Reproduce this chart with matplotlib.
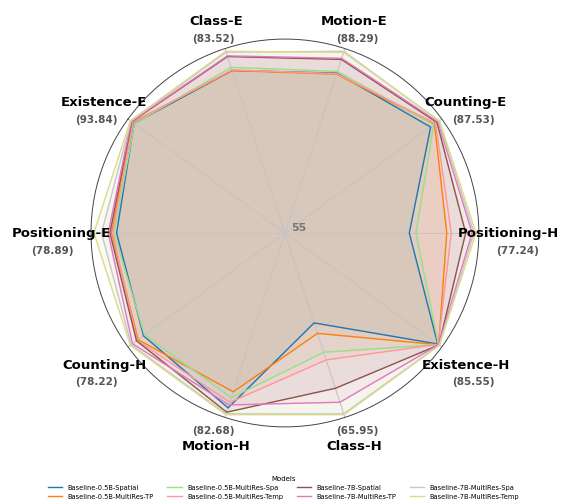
import numpy as np
import matplotlib
matplotlib.use("Agg")
import matplotlib.pyplot as plt

# axis order, clockwise starting at Existence-E
categories = ['Existence-E', 'Class-E', 'Motion-E', 'Counting-E', 'Positioning-H',
              'Existence-H', 'Class-H', 'Motion-H', 'Counting-H', 'Positioning-E']

models = ['Baseline-0.5B-Spatial', 'Baseline-0.5B-MultiRes-TP',
          'Baseline-0.5B-MultiRes-Spa', 'Baseline-0.5B-MultiRes-Temp',
          'Baseline-7B-Spatial', 'Baseline-7B-MultiRes-TP',
          'Baseline-7B-MultiRes-Spa', 'Baseline-7B-MultiRes-Temp']

b05_spatial = [92.90, 80.50, 84.30, 85.68, 69.48, 85.20, 60.42, 81.65, 76.25, 76.05]
b05_mr_tp = [93.30, 80.50, 84.10, 86.49, 73.84, 85.40, 61.05, 79.20, 77.06, 76.67]
b05_mr_spa = [92.80, 81.00, 84.60, 86.33, 70.26, 85.35, 62.19, 80.10, 76.10, 76.38]
b05_mr_temp = [93.20, 80.60, 84.20, 86.72, 74.37, 85.30, 62.65, 80.80, 77.20, 76.55]
b7_spatial = [93.50, 82.70, 86.80, 87.01, 76.04, 85.45, 64.36, 82.30, 77.30, 76.88]
b7_mr_tp = [93.60, 82.80, 87.00, 87.20, 76.80, 85.40, 65.20, 81.20, 77.90, 77.10]
b7_mr_spa = [93.70, 83.38, 88.29, 87.40, 77.00, 85.50, 65.90, 82.55, 78.10, 77.93]
b7_mr_temp = [93.84, 83.52, 88.10, 87.53, 77.24, 85.55, 65.95, 82.68, 78.22, 78.89]

r_min = 55

scores = np.array([b05_spatial, b05_mr_tp, b05_mr_spa, b05_mr_temp,
                   b7_spatial, b7_mr_tp, b7_mr_spa, b7_mr_temp])
axis_max = scores.max(axis=0)
norm = (scores - r_min) / (axis_max - r_min)

n = len(categories)
angles = np.linspace(0, 2 * np.pi, n, endpoint=False)
colors = plt.cm.tab20(np.arange(len(models)) / len(models))

fig = plt.figure(figsize=(5.67, 5.02), dpi=100)
ax = fig.add_axes([0.1605, 0.1474, 0.684, 0.773], polar=True)
ax.set_theta_offset(np.deg2rad(144))
ax.set_theta_direction(-1)

closed = np.append(angles, angles[0])
for i, name in enumerate(models):
    vals = np.append(norm[i], norm[i][0])
    ax.plot(closed, vals, color=colors[i], linewidth=1.0, label=name)
    ax.fill(closed, vals, color=colors[i], alpha=0.1)

ax.set_ylim(0, 1.015)
ax.set_yticks([])
ax.set_xticks(angles)
ax.set_xticklabels([])
ax.xaxis.grid(True, color='#c4c4c4', linewidth=0.8)
ax.spines['polar'].set_color('#444444')
ax.spines['polar'].set_linewidth(0.7)

for k, cat in enumerate(categories):
    th = np.deg2rad(144) - angles[k]  # screen angle
    ax.text(angles[k], 1.168, cat, ha='center', va='center',
            fontsize=9.5, fontweight='bold', color='black')
    dy = 11 if np.sin(th) < -0.9 else -12.3
    dx = 7 * np.cos(th)
    ax.annotate(f'({axis_max[k]:.2f})', xy=(angles[k], 1.168),
                xytext=(dx, dy), textcoords='offset points',
                ha='center', va='center', fontsize=7.5,
                fontweight='bold', color='#555555', annotation_clip=False)

ax.annotate(str(r_min), xy=(0, 0), xytext=(4.8, 0.8), textcoords='offset points',
            ha='left', va='bottom', fontsize=8, fontweight='bold', color='#777777')

fig.legend(loc='lower center', bbox_to_anchor=(0.5, -0.005), ncol=4,
           fontsize=4.8, title='Models', title_fontsize=5, frameon=False,
           handlelength=2.2, handletextpad=0.8, columnspacing=2.0,
           labelspacing=0.45, borderaxespad=0.3)

fig.savefig('out.png', dpi=100)
